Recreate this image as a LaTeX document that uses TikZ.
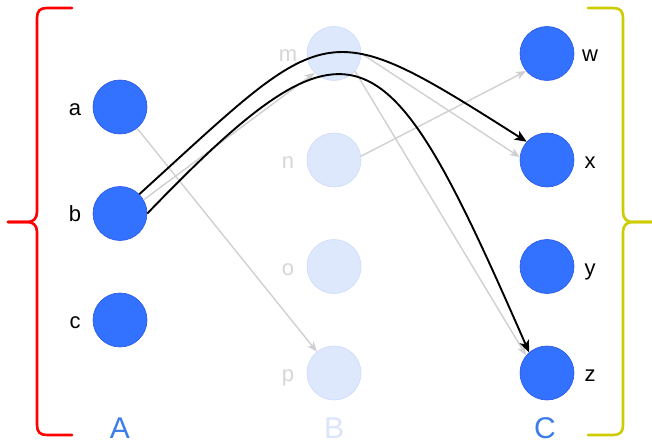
\documentclass[tikz,border=0pt]{standalone}
\usepackage{fontspec}
\setmainfont{Liberation Sans}
\usetikzlibrary{arrows.meta}
\definecolor{nodeblue}{RGB}{51,114,255}
\definecolor{nodeedge}{RGB}{40,85,235}
\definecolor{fadefill}{RGB}{222,232,253}
\definecolor{fadeedge}{RGB}{204,218,252}
\definecolor{fadetext}{RGB}{214,214,214}
\definecolor{edgegray}{RGB}{208,208,208}
\definecolor{setblue}{RGB}{59,125,235}
\definecolor{setfade}{RGB}{218,228,251}
\definecolor{bracered}{RGB}{255,0,0}
\definecolor{braceyellow}{RGB}{204,204,0}
\begin{document}
\begin{tikzpicture}[x=1pt,y=-1pt,
  dot/.style={circle,minimum size=54pt,inner sep=0pt,fill=nodeblue,draw=nodeedge,line width=0.6pt},
  fadedot/.style={circle,minimum size=54pt,inner sep=0pt,fill=fadefill,draw=fadeedge,line width=0.6pt},
  lbl/.style={font=\fontsize{22}{22}\selectfont,text=black,anchor=base,inner sep=0pt},
  fadelbl/.style={lbl,text=fadetext},
  setlbl/.style={font=\fontsize{30}{30}\selectfont,anchor=base,inner sep=0pt},
  grayarrow/.style={draw=edgegray,line width=1.4pt,-{Stealth[length=10pt,width=8pt,inset=2.5pt]}},
  blackarrow/.style={draw=black,line width=1.9pt,-{Stealth[length=12pt,width=10pt,inset=3pt]}},
  brace/.style={line width=2.6pt,line cap=round,line join=round}]
\useasboundingbox (0,0) rectangle (652,443);

% braces
\draw[brace,draw=bracered] (72,8) -- (47,8) .. controls (40,8) and (37,11) .. (37,18) -- (37,212)
  .. controls (37,219) and (33,222) .. (27,222) -- (8,222);
\draw[brace,draw=bracered] (8,222) -- (27,222) .. controls (33,222) and (37,225) .. (37,232) -- (37,425)
  .. controls (37,432) and (40,435) .. (47,435) -- (72,435);
\draw[brace,draw=braceyellow] (588,8) -- (613,8) .. controls (620,8) and (623,11) .. (623,18) -- (623,212)
  .. controls (623,219) and (627,222) .. (633,222) -- (652,222);
\draw[brace,draw=braceyellow] (652,222) -- (633,222) .. controls (627,222) and (623,225) .. (623,232) -- (623,425)
  .. controls (623,432) and (620,435) .. (613,435) -- (588,435);

% nodes
\node[dot] (a) at (120,107) {};
\node[dot] (b) at (120,213.5) {};
\node[dot] (c) at (120,320) {};
\node[fadedot] (m) at (334,53.5) {};
\node[fadedot] (n) at (334,160) {};
\node[fadedot] (o) at (334,266.5) {};
\node[fadedot] (p) at (334,373) {};
\node[dot] (w) at (547,53.5) {};
\node[dot] (x) at (547,160) {};
\node[dot] (y) at (547,266.5) {};
\node[dot] (z) at (547,373) {};

% labels
\node[lbl] (la) at (75,115.5) {a};
\node[lbl] (lb) at (75,222) {b};
\node[lbl] (lc) at (75,328.5) {c};
\node[fadelbl] (lm) at (288,62) {m};
\node[fadelbl] (ln) at (288,168.5) {n};
\node[fadelbl] (lo) at (288,275) {o};
\node[fadelbl] (lp) at (288,381.5) {p};
\node[lbl] (lw) at (590,62) {w};
\node[lbl] (lx) at (590,168.5) {x};
\node[lbl] (ly) at (590,275) {y};
\node[lbl] (lz) at (590,381.5) {z};
\node[setlbl,text=setblue] (sA) at (120,438) {A};
\node[setlbl,text=setfade] (sB) at (334,438) {B};
\node[setlbl,text=setblue] (sC) at (545,438) {C};

% gray edges
\draw[grayarrow] (a) -- (p);
\draw[grayarrow] (b.30) -- (m.225);
\draw[grayarrow] (n.8) -- (w.220);
\draw[grayarrow] (m.east) -- (x.174);
\draw[grayarrow] (m.-40) -- (z.140);

% black edges
\draw[blackarrow] (b.45) .. controls (330,21) and (321,11) .. (x.138);
\draw[blackarrow] (b.east) .. controls (357,-4) and (387,28) .. (z.131);
\end{tikzpicture}
\end{document}
